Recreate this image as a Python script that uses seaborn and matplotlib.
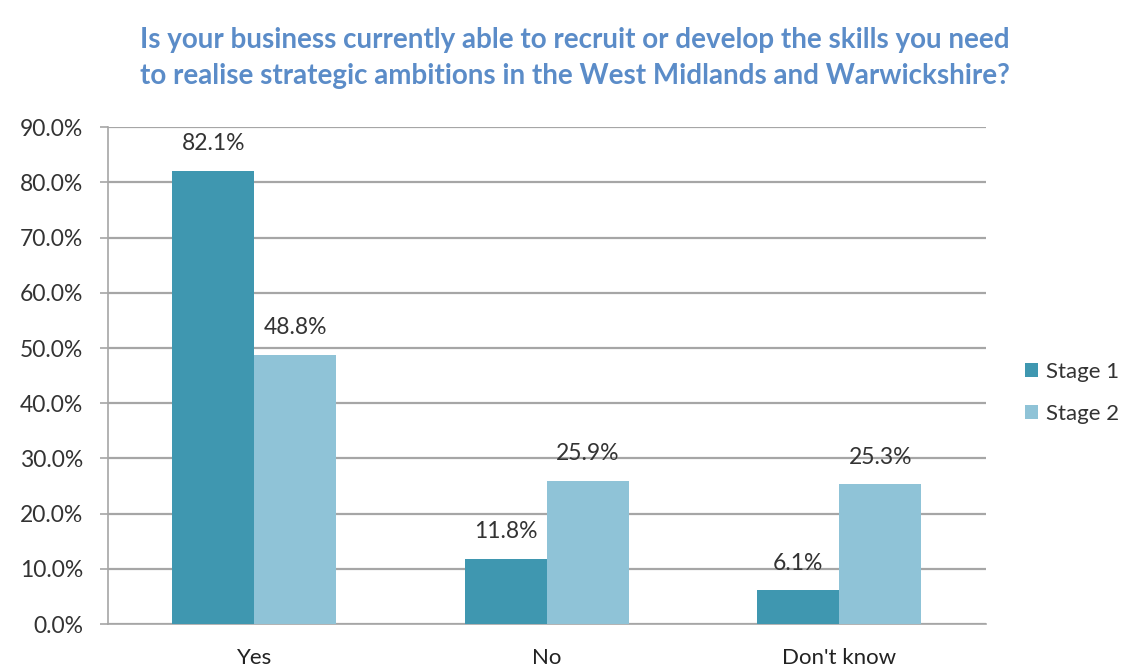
import matplotlib
matplotlib.use("Agg")
import matplotlib.pyplot as plt
from matplotlib.ticker import FixedLocator, FuncFormatter, MultipleLocator
import pandas as pd
import seaborn as sns

categories = ["Yes", "No", "Don't know"]
series_names = ["Stage 1", "Stage 2"]
stage1 = [82.1, 11.8, 6.1]
stage2 = [48.8, 25.9, 25.3]
colors = ["#3f97b0", "#8fc3d7"]
title_text = ("Is your business currently able to recruit or develop the skills you need\n"
              "to realise strategic ambitions in the West Midlands and Warwickshire?")

df = pd.DataFrame({
    "category": categories * 2,
    "stage": [series_names[0]] * 3 + [series_names[1]] * 3,
    "value": stage1 + stage2,
})

sns.set_theme(style="white")
plt.rcParams["font.family"] = ["Lato", "DejaVu Sans"]

fig = plt.figure(figsize=(11.31, 6.69), dpi=100)
ax = fig.add_axes([0.0955, 0.067, 0.776, 0.743])

sns.barplot(data=df, x="category", y="value", hue="stage", order=categories,
            hue_order=series_names, palette=colors, width=0.56, saturation=1,
            edgecolor="none", ax=ax, zorder=3)

for cont in ax.containers:
    ax.bar_label(cont, fmt="%.1f%%", padding=12, fontsize=16.5, color="#333333")

ax.set_ylim(0, 90)
ax.set_xlim(-0.5, 2.5)
ax.yaxis.set_major_locator(MultipleLocator(10))
ax.yaxis.set_major_formatter(FuncFormatter(lambda v, p: f"{v:.1f}%"))
ax.grid(axis="y", color="#a6a6a6", linewidth=1.6, zorder=0)
ax.set_axisbelow(True)

for s in ["top", "right"]:
    ax.spines[s].set_visible(False)
for s in ["left", "bottom"]:
    ax.spines[s].set_color("#a6a6a6")
    ax.spines[s].set_linewidth(1.2)

ax.xaxis.set_minor_locator(FixedLocator([-0.5, 0.5, 1.5, 2.5]))
ax.tick_params(axis="x", which="major", length=0, labelsize=16, colors="#222222", pad=17)
ax.tick_params(axis="x", which="minor", length=7, width=1.2, color="#a6a6a6", direction="out")
ax.tick_params(axis="y", which="major", length=6, width=1.2, color="#a6a6a6",
               direction="out", left=True, labelsize=16.5, labelcolor="#333333", pad=12)
ax.set_xlabel("")
ax.set_ylabel("")

leg = ax.legend(loc="center left", bbox_to_anchor=(1025 / 1131, 1 - 393 / 669),
                bbox_transform=fig.transFigure, frameon=False, borderpad=0,
                borderaxespad=0, fontsize=16, handlelength=0.6, handleheight=0.6,
                handletextpad=0.35, labelspacing=1.0)
for t in leg.get_texts():
    t.set_color("#333333")

fig.text(0.508, 0.913, title_text, ha="center", va="center", fontsize=20,
         fontweight="bold", color="#5b8cc8", linespacing=1.45)

fig.savefig("out.png", dpi=100, facecolor="white")
